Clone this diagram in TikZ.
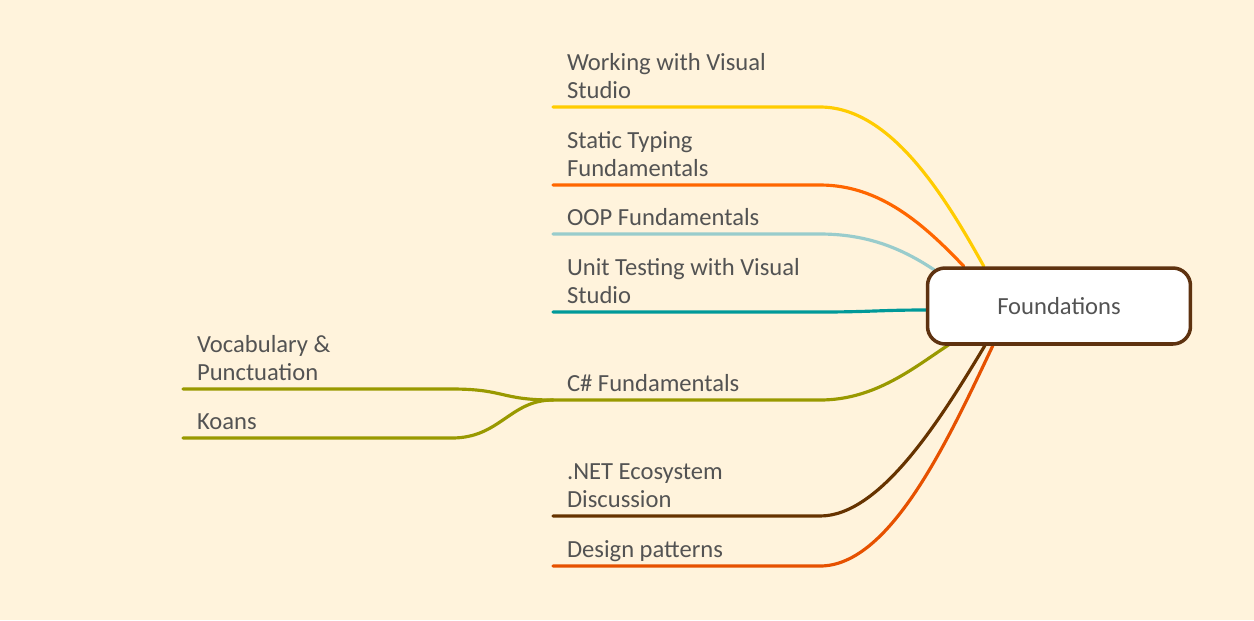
\documentclass[tikz,border=0pt]{standalone}
\usepackage{fontspec}
\setmainfont{Carlito}
\usepackage{xcolor}
\usetikzlibrary{positioning,backgrounds}

\definecolor{bgcream}{HTML}{FFF3DC}
\definecolor{labelgray}{HTML}{535353}
\definecolor{topicbrown}{HTML}{5E3210}
\definecolor{vsyellow}{HTML}{FFCC00}
\definecolor{typeorange}{HTML}{FF6600}
\definecolor{oopblue}{HTML}{99CCCC}
\definecolor{testteal}{HTML}{009999}
\definecolor{csolive}{HTML}{999900}
\definecolor{netbrown}{HTML}{663300}
\definecolor{patternred}{HTML}{E65100}

\newcommand{\mapfont}{\fontsize{14}{15.8}\selectfont}

\begin{document}
\begin{tikzpicture}[x=0.02cm, y=-0.02cm, font=\mapfont, text=labelgray,
    topic/.style={draw=topicbrown, line width=2pt, fill=white, rounded corners=10pt,
        minimum width=5.26cm, minimum height=1.52cm, inner sep=0pt},
    leaf/.style={anchor=south west, align=left, inner xsep=8pt, inner ysep=0pt, outer sep=0pt},
    branch/.style={line width=1.8pt, line cap=round}]
        \node[topic] (found) at (1059,306) {Foundations};
        % labels on the right of the C# branch point
        \foreach \nm/\yy/\txt in {vs/107/{Working with Visual\\Studio}, typing/185/{Static Typing\\Fundamentals},
            oop/234/{OOP Fundamentals}, test/312/{Unit Testing with Visual\\Studio}, cs/400/{C\# Fundamentals},
            net/516/{.NET Ecosystem\\Discussion}, pat/566/{Design patterns}}{\node[leaf] (\nm) at (553,\yy) {\txt\strut};}
        \foreach \nm/\yy/\txt in {vocab/389/{Vocabulary \&\\Punctuation}, koans/438/{Koans}}{\node[leaf] (\nm) at (183,\yy) {\txt\strut};}
        % where the branches meet the topic
        \coordinate (vs end) at ([shift={(58,0)}]found.north west);
        \coordinate (typing end) at ([shift={(38,0)}]found.north west);
        \coordinate (oop end) at ([shift={(9,4)}]found.north west);
        \coordinate (test end) at ([shift={(0,4)}]found.west);
        \coordinate (cs end) at ([shift={(23,-1)}]found.south west);
        \coordinate (net end) at ([shift={(59,0)}]found.south west);
        \coordinate (pat end) at ([shift={(67,0)}]found.south west);
        \begin{scope}[on background layer]
            \fill[bgcream] (0,0) rectangle (1254,620);
            \draw[branch, vsyellow] (vs.south west) -- ++(267,0) .. controls +(70,0) and +(-40,-72) .. (vs end);
            \draw[branch, typeorange] (typing.south west) -- ++(267,0) .. controls +(60,0) and +(-40,-42) .. (typing end);
            \draw[branch, oopblue] (oop.south west) -- ++(267,0) .. controls +(50,0) and +(-30,-20) .. (oop end);
            \draw[branch, testteal] (test.south west) -- ++(267,0) .. controls +(50,0) and +(-46,0) .. (test end);
            \draw[branch, csolive] (cs.south west) -- ++(267,0) .. controls +(55,0) and +(-35,23) .. (cs end);
            \draw[branch, netbrown] (net.south west) -- ++(267,0) .. controls +(60,0) and +(-45,75) .. (net end);
            \draw[branch, patternred] (pat.south west) -- ++(267,0) .. controls +(70,0) and +(-45,95) .. (pat end);
            \draw[branch, csolive] (vocab.south west) -- ++(269,0) .. controls +(53,0) and +(-53,0) .. (cs.south west);
            \draw[branch, csolive] (koans.south west) -- ++(269,0) .. controls +(48,0) and +(-43,0) .. (cs.south west);
        \end{scope}
    \end{tikzpicture}
\end{document}
